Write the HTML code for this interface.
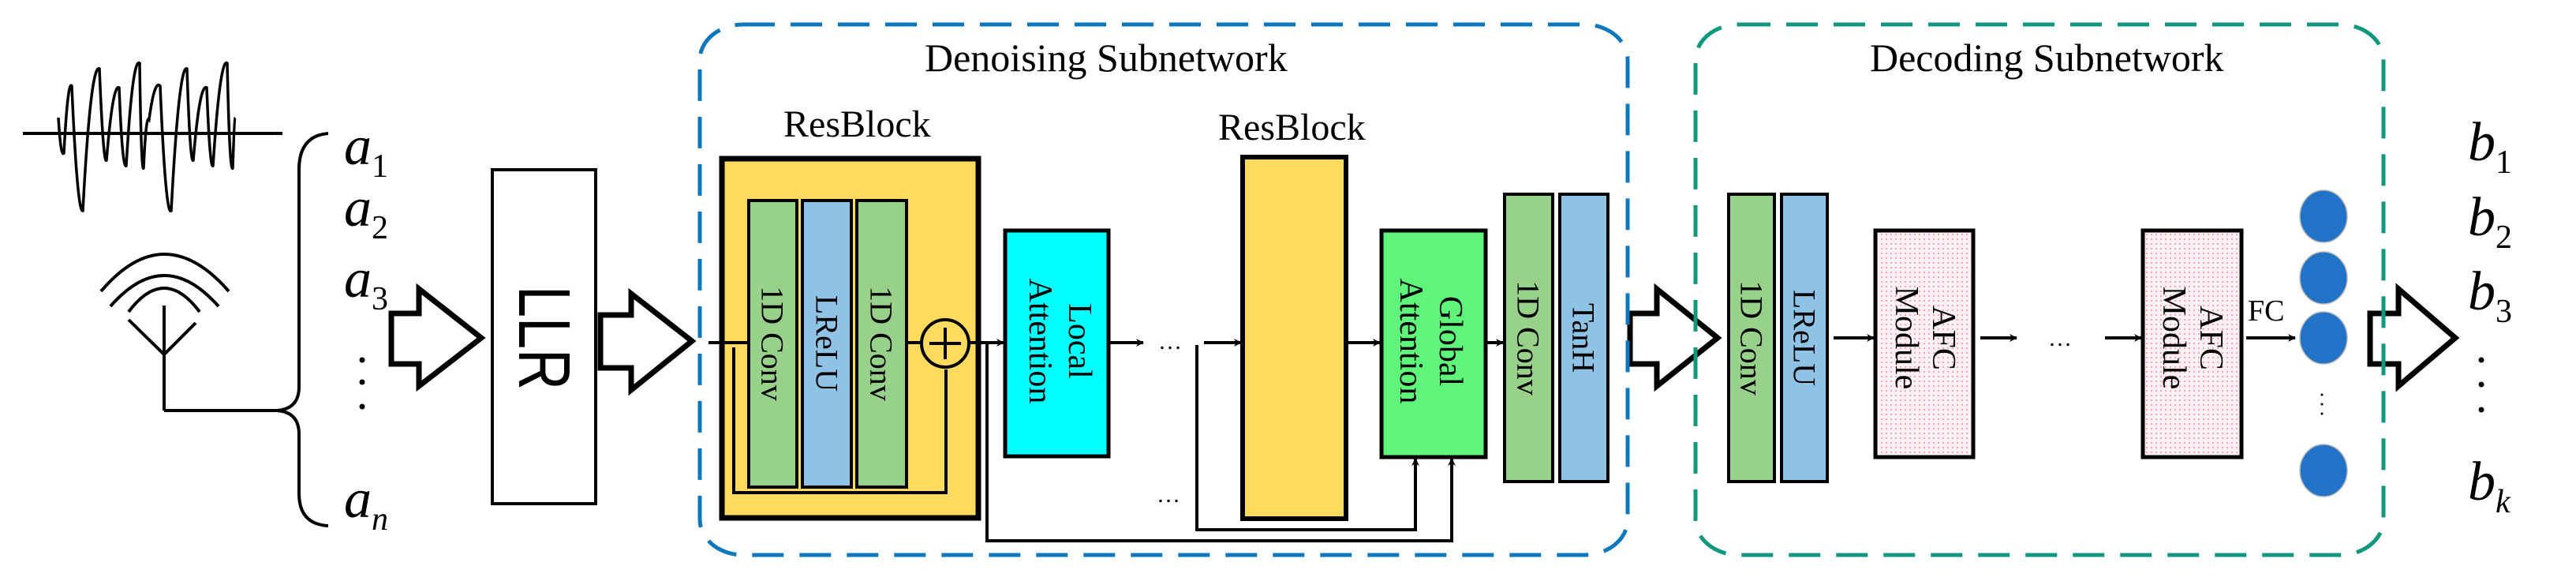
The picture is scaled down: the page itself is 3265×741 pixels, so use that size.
<!DOCTYPE html>
<html><head><meta charset="utf-8"><style>
html,body{margin:0;padding:0;background:#fff;}
svg{display:block;}
text{font-family:"Liberation Serif",serif;fill:#000;}
</style></head><body>
<svg width="3265" height="741" viewBox="0 0 3265 741" xmlns="http://www.w3.org/2000/svg" font-family="Liberation Serif, serif">
<defs>
<pattern id="dots" width="6" height="6" patternUnits="userSpaceOnUse">
<rect width="6" height="6" fill="#fdf0f3"/><circle cx="3" cy="3" r="0.9" fill="#e8788f"/>
</pattern>
<marker id="ah" markerWidth="10" markerHeight="10" refX="9" refY="5" orient="auto" markerUnits="userSpaceOnUse" viewBox="0 0 10 10">
<path d="M0,0 L10,5 L0,10 L3,5 Z" fill="#000"/>
</marker>
</defs>
<g fill="none" stroke="#000" stroke-width="4">
<line x1="29" y1="169" x2="358" y2="169"/>
<path d="M74,149 Q77,200 81,194 Q86,100 91,109 Q98,270 105,267 Q115,80 126,87 Q131,210 135,203 Q143,105 151,111 Q155,215 160,210 Q168,72 177,80 Q179,220 182,213 Q185,145 189,151 Q196,100 203,109 Q210,275 217,267 Q227,80 237,87 Q241,210 245,203 Q253,105 262,111 Q266,215 270,210 Q279,72 288,80 Q291,220 295,213 Q297,150 298,149" stroke-width="3.5"/>
<path d="M128,369 Q208,275 290,369"/>
<path d="M140,388 Q208,310 277,388"/>
<path d="M163,395 Q208,335 253,395"/>
<line x1="208" y1="387" x2="208" y2="520"/>
<polyline points="163,405 208,449 248,409"/>
<polyline points="208,520 351,520"/>
<path d="M416,169 Q379,172 379,215 L379,490 Q379,518 351,520 Q379,522 379,550 L379,625 Q379,664 416,666"/>
</g>
<g style="font-family:'Liberation Serif',serif;font-style:italic" font-size="70">
<text x="436" y="208">a<tspan font-size="42" style="font-style:normal" dy="16">1</tspan></text>
<text x="436" y="286">a<tspan font-size="42" style="font-style:normal" dy="16">2</tspan></text>
<text x="436" y="376">a<tspan font-size="42" style="font-style:normal" dy="16">3</tspan></text>
<text x="436" y="655">a<tspan font-size="42" dy="16">n</tspan></text>
</g>
<g fill="#000"><circle cx="459" cy="456" r="3.5"/><circle cx="459" cy="484" r="3.5"/><circle cx="459" cy="515" r="3.5"/></g>
<g fill="#fff" stroke="#000" stroke-width="7" stroke-linejoin="miter">
<polygon points="496,397 531,397 531,366 610,428 531,489 531,461 496,461"/>
<polygon points="761,399 800,399 800,372 877,432 800,494 800,466 761,466"/>
<polygon points="2066,397 2100,397 2100,366 2177,428 2100,489 2100,461 2066,461"/>
<polygon points="3004,397 3040,397 3040,366 3112,428 3040,489 3040,461 3004,461"/>
</g>
<rect x="624" y="215" width="131" height="423" fill="#fff" stroke="#000" stroke-width="4"/>
<text transform="translate(690,428) rotate(90)" text-anchor="middle" dominant-baseline="central" font-size="93" textLength="132" lengthAdjust="spacingAndGlyphs" style="font-family:'Liberation Sans',sans-serif">LLR</text>
<rect x="887" y="31" width="1176" height="672" rx="55" ry="45" fill="none" stroke="#0e77bd" stroke-width="5" stroke-dasharray="40 20"/>
<rect x="2149" y="31" width="872" height="672" rx="55" ry="45" fill="none" stroke="#12977f" stroke-width="5" stroke-dasharray="40 20"/>
<text x="1172" y="90" font-size="50">Denoising Subnetwork</text>
<text x="2370" y="90" font-size="50">Decoding Subnetwork</text>
<text x="993" y="173" font-size="48">ResBlock</text>
<rect x="915" y="201" width="325" height="455" fill="#fedb5e" stroke="#000" stroke-width="7"/>
<g stroke="#000" stroke-width="4">
<rect x="949" y="254" width="61" height="363" fill="#98d18a"/>
<rect x="1017" y="254" width="62" height="363" fill="#8ec3e6"/>
<rect x="1086" y="254" width="63" height="363" fill="#98d18a"/>
</g>
<g font-size="40" fill="#111">
<text transform="translate(979,435) rotate(90)" text-anchor="middle" dominant-baseline="central">1D Conv</text>
<text transform="translate(1048,435) rotate(90)" text-anchor="middle" dominant-baseline="central">LReLU</text>
<text transform="translate(1117,435) rotate(90)" text-anchor="middle" dominant-baseline="central">1D Conv</text>
</g>
<g fill="none" stroke="#000" stroke-width="4">
<line x1="898" y1="434" x2="950" y2="434"/>
<polyline points="930,440 930,624 1199,624 1199,468"/>
<line x1="1149" y1="434" x2="1168" y2="434"/>
<circle cx="1198" cy="435" r="30" fill="none"/>
<line x1="1178" y1="435" x2="1218" y2="435"/>
<line x1="1198" y1="415" x2="1198" y2="455"/>
<line x1="1228" y1="434" x2="1272" y2="434" marker-end="url(#ah)"/>
<polyline points="1251,434 1251,685 1840,685 1840,581" marker-end="url(#ah)"/>
<polyline points="1517,437 1517,671 1794,671 1794,581" marker-end="url(#ah)"/>
<line x1="1405" y1="434" x2="1449" y2="434" marker-end="url(#ah)"/>
<line x1="1526" y1="434" x2="1573" y2="434" marker-end="url(#ah)"/>
<line x1="1706" y1="434" x2="1749" y2="434" marker-end="url(#ah)"/>
<line x1="1883" y1="434" x2="1905" y2="434" marker-end="url(#ah)"/>
<line x1="2324" y1="428" x2="2375" y2="428" marker-end="url(#ah)"/>
<line x1="2510" y1="428" x2="2556" y2="428" marker-end="url(#ah)"/>
<line x1="2668" y1="428" x2="2714" y2="428" marker-end="url(#ah)"/>
<line x1="2847" y1="428" x2="2909" y2="428" marker-end="url(#ah)"/>
</g>
<text x="1468" y="442" font-size="30">…</text>
<text x="1466" y="636" font-size="30">…</text>
<text x="2596" y="438" font-size="30">…</text>
<rect x="1274" y="292" width="131" height="286" fill="#00ffff" stroke="#000" stroke-width="5"/>
<g font-size="42">
<text transform="translate(1368,432) rotate(90)" text-anchor="middle" dominant-baseline="central">Local</text>
<text transform="translate(1318,432) rotate(90)" text-anchor="middle" dominant-baseline="central">Attention</text>
</g>
<text x="1544" y="177" font-size="48">ResBlock</text>
<rect x="1575" y="199" width="131" height="458" fill="#fedb5e" stroke="#000" stroke-width="6"/>
<rect x="1751" y="292" width="132" height="287" fill="#5ef57a" stroke="#000" stroke-width="5"/>
<g font-size="42">
<text transform="translate(1838,432) rotate(90)" text-anchor="middle" dominant-baseline="central">Global</text>
<text transform="translate(1788,432) rotate(90)" text-anchor="middle" dominant-baseline="central">Attention</text>
</g>
<g stroke="#000" stroke-width="4">
<rect x="1907" y="246" width="61" height="364" fill="#98d18a"/>
<rect x="1977" y="246" width="61" height="364" fill="#8ec3e6"/>
<rect x="2191" y="246" width="58" height="364" fill="#98d18a"/>
<rect x="2258" y="246" width="58" height="364" fill="#8ec3e6"/>
</g>
<g font-size="40" fill="#111">
<text transform="translate(1937,428) rotate(90)" text-anchor="middle" dominant-baseline="central">1D Conv</text>
<text transform="translate(2007,428) rotate(90)" text-anchor="middle" dominant-baseline="central">TanH</text>
<text transform="translate(2220,428) rotate(90)" text-anchor="middle" dominant-baseline="central">1D Conv</text>
<text transform="translate(2287,428) rotate(90)" text-anchor="middle" dominant-baseline="central">LReLU</text>
</g>
<g stroke="#000" stroke-width="5" fill="url(#dots)">
<rect x="2377" y="292" width="124" height="287"/>
<rect x="2716" y="292" width="125" height="287"/>
</g>
<g font-size="42">
<text transform="translate(2463,428) rotate(90)" text-anchor="middle" dominant-baseline="central">AFC</text>
<text transform="translate(2416,428) rotate(90)" text-anchor="middle" dominant-baseline="central">Module</text>
<text transform="translate(2802,428) rotate(90)" text-anchor="middle" dominant-baseline="central">AFC</text>
<text transform="translate(2755,428) rotate(90)" text-anchor="middle" dominant-baseline="central">Module</text>
</g>
<text x="2849" y="406" font-size="38">FC</text>
<g fill="#2173c7" stroke="#b8b8b8" stroke-width="1.5">
<ellipse cx="2945" cy="274" rx="30" ry="33"/>
<ellipse cx="2945" cy="352" rx="30" ry="33"/>
<ellipse cx="2945" cy="428" rx="30" ry="33"/>
<ellipse cx="2945" cy="596" rx="30" ry="33"/>
</g>
<g fill="#000"><circle cx="2943" cy="500" r="1.5"/><circle cx="2943" cy="512" r="1.5"/><circle cx="2943" cy="524" r="1.5"/></g>
<g style="font-family:'Liberation Serif',serif;font-style:italic" font-size="70">
<text x="3128" y="203">b<tspan font-size="42" style="font-style:normal" dy="16">1</tspan></text>
<text x="3128" y="298">b<tspan font-size="42" style="font-style:normal" dy="16">2</tspan></text>
<text x="3128" y="392">b<tspan font-size="42" style="font-style:normal" dy="16">3</tspan></text>
<text x="3128" y="633">b<tspan font-size="42" dy="16">k</tspan></text>
</g>
<g fill="#000"><circle cx="3145" cy="456" r="3.5"/><circle cx="3145" cy="487" r="3.5"/><circle cx="3145" cy="519" r="3.5"/></g>
</svg>
</body></html>
